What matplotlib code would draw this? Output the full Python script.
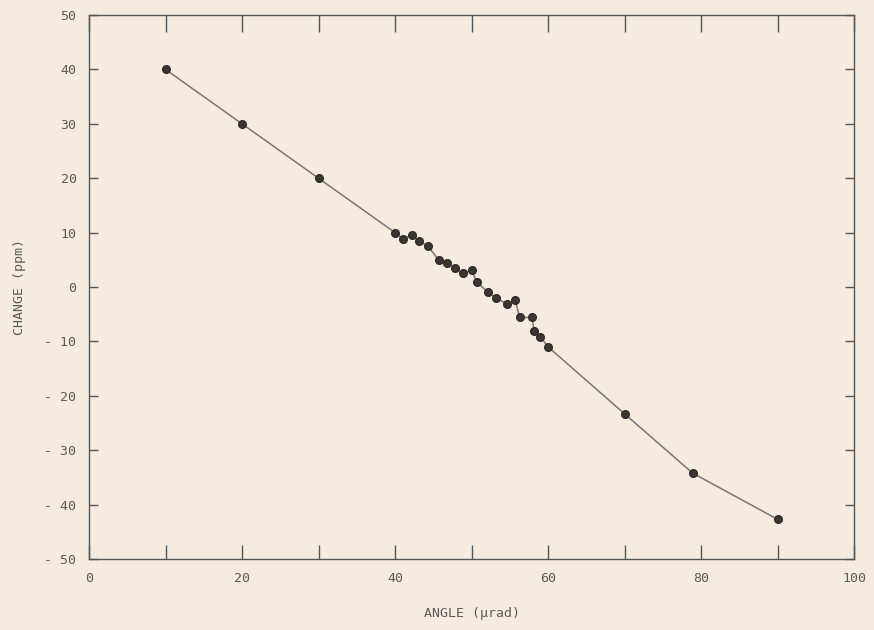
import matplotlib
matplotlib.use("Agg")
import matplotlib.pyplot as plt

angle = [10, 20, 30, 40, 41.0, 42.2, 43.2, 44.3, 45.7, 46.8, 47.8, 48.9, 50.0, 50.7,
         52.1, 53.2, 54.6, 55.7, 56.3, 57.9, 58.2, 59.0, 60.0, 70.0, 78.9, 90.0]
change = [40, 30, 20, 10, 8.9, 9.5, 8.4, 7.5, 5.0, 4.4, 3.5, 2.5, 3.1, 0.9,
          -0.9, -2.0, -3.1, -2.4, -5.6, -5.6, -8.0, -9.1, -11.0, -23.3, -34.2, -42.7]

xticks_major = [0, 20, 40, 60, 80, 100]
xtick_labels = ["0", "20", "40", "60", "80", "100"]
xticks_minor = [10, 30, 50, 70, 90]
yticks = [50, 40, 30, 20, 10, 0, -10, -20, -30, -40, -50]
ytick_labels = ["50", "40", "30", "20", "10", "0", "- 10", "- 20", "- 30", "- 40", "- 50"]

bg = "#f5ecdf"
txt = "#5a5a5a"
fig = plt.figure(figsize=(8.74, 6.30), dpi=100, facecolor=bg)
ax = fig.add_axes([89/874, 71/630, (854-89)/874, (559-15)/630])
ax.set_facecolor(bg)

ax.plot(angle, change, color="#7a7570", lw=1.1, zorder=2)
ax.plot(angle, change, 'o', color="#3a3633", ms=5.5, zorder=3, mec="#2e2a28")

ax.set_xlim(0, 100)
ax.set_ylim(-50, 50)
ax.set_xticks(xticks_major)
ax.set_xticklabels(xtick_labels)
ax.set_xticks(xticks_minor, minor=True)
ax.set_yticks(yticks)
ax.set_yticklabels(ytick_labels)

font = "DejaVu Sans Mono"
for lab in ax.get_xticklabels() + ax.get_yticklabels():
    lab.set_fontfamily(font)
    lab.set_fontsize(9.5)
    lab.set_color(txt)

ax.tick_params(axis="y", which="both", direction="in", right=True,
               length=6.5, width=1.0, color="#555555", pad=9)
ax.tick_params(axis="x", which="both", direction="in", top=True,
               length=10, width=1.0, color="#555555", pad=9)
for t in ax.xaxis.get_major_ticks() + ax.xaxis.get_minor_ticks():
    t.tick2line.set_markersize(12)
for s in ax.spines.values():
    s.set_color("#555555")
    s.set_linewidth(1.0)

ax.set_xlabel("ANGLE (μrad)", fontfamily=font, fontsize=9.5, color=txt, labelpad=16)
ax.set_ylabel("CHANGE (ppm)", fontfamily=font, fontsize=9.5, color=txt, labelpad=13)

fig.savefig("out.png", dpi=100, facecolor=bg)
